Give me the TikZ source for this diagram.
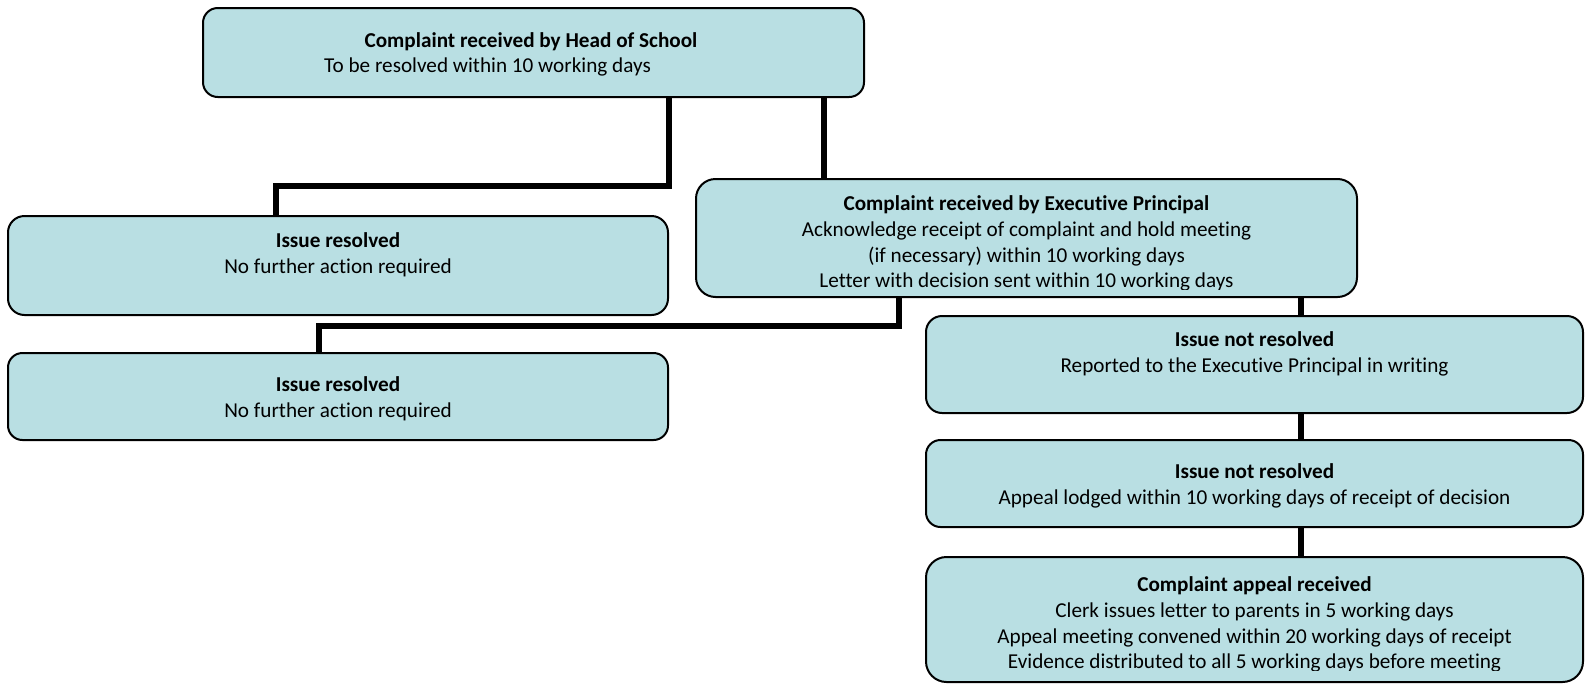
\documentclass[tikz,border=0pt]{standalone}
\usepackage{fontspec}
\setmainfont[Ligatures=NoCommon]{Carlito}
\usetikzlibrary{backgrounds}
\definecolor{boxfill}{RGB}{185,223,227}
\begin{document}
\begin{tikzpicture}[x=1pt,y=-1pt,
  box/.style={draw=black, line width=2pt, fill=boxfill, inner sep=0pt},
  conn/.style={draw=black, line width=6pt, line join=miter},
  tx/.style={inner sep=0pt, anchor=base, font=\fontsize{21.2}{26}\selectfont},
  hd/.style={tx, font=\fontsize{21.2}{26}\selectfont\bfseries}]
\useasboundingbox (0,0) rectangle (1585,683);

% boxes
\node[box, minimum width=661pt, minimum height=89pt, rounded corners=14.8pt] (A) at (533.5,52.5) {};
\node[box, minimum width=660pt, minimum height=99pt, rounded corners=16.5pt] (B) at (338,265.5) {};
\node[box, minimum width=661pt, minimum height=118pt, rounded corners=19.5pt] (C) at (1026.5,238) {};
\node[box, minimum width=660pt, minimum height=87pt, rounded corners=14.5pt] (D) at (338,396.5) {};
\node[box, minimum width=657pt, minimum height=97pt, rounded corners=16pt] (E) at (1254.5,364.5) {};
\node[box, minimum width=657pt, minimum height=87pt, rounded corners=14.5pt] (F) at (1254.5,483.5) {};
\node[box, minimum width=657pt, minimum height=125pt, rounded corners=20.5pt] (G) at (1254.5,619.5) {};

% connectors
\coordinate (k1) at (668.5,186);
\coordinate (k2) at (276,186);
\coordinate (k3) at (824,0);
\coordinate (k4) at (899,326);
\coordinate (k5) at (319,326);
\coordinate (k6) at (1301,0);
\begin{pgfonlayer}{background}
\draw[conn] (A.south -| k1) -- (k1) -- (k2) -- (k2 |- B.north);
\draw[conn] (A.south -| k3) -- (k3 |- C.north);
\draw[conn] (C.south -| k4) -- (k4) -- (k5) -- (k5 |- D.north);
\draw[conn] (C.south -| k6) -- (k6 |- E.north);
\draw[conn] (E.south -| k6) -- (k6 |- F.north);
\draw[conn] (F.south -| k6) -- (k6 |- G.north);
\end{pgfonlayer}

% texts
\node[hd] (tA1) at (531,47) {Complaint received by Head of School};
\node[tx, anchor=base west] (tA2) at (324,72.5) {To be resolved within 10 working days};

\node[hd] (tB1) at (338,247) {Issue resolved};
\node[tx] (tB2) at (338,273) {No further action required};

\node[hd] (tC1) at (1026.5,210) {Complaint received by Executive Principal};
\node[tx] (tC2) at (1026.5,236) {Acknowledge receipt of complaint and hold meeting};
\node[tx] (tC3) at (1026.5,262) {(if necessary) within 10 working days};
\begin{scope}
\clip (696,265) rectangle (1357,289);
\node[tx] (tC4) at (1026.5,287) {Letter with decision sent within 10 working days};
\end{scope}

\node[hd] (tD1) at (338,391) {Issue resolved};
\node[tx] (tD2) at (338,417) {No further action required};

\node[hd] (tE1) at (1254.5,346) {Issue not resolved};
\node[tx] (tE2) at (1254.5,372) {Reported to the Executive Principal in writing};

\node[hd] (tF1) at (1254.5,478) {Issue not resolved};
\node[tx] (tF2) at (1254.5,504) {Appeal lodged within 10 working days of receipt of decision};

\node[hd] (tG1) at (1254.5,591) {Complaint appeal received};
\node[tx] (tG2) at (1254.5,617) {Clerk issues letter to parents in 5 working days};
\node[tx] (tG3) at (1254.5,643) {Appeal meeting convened within 20 working days of receipt};
\begin{scope}
\clip (926,646) rectangle (1583,670);
\node[tx] (tG4) at (1254.5,668) {Evidence distributed to all 5 working days before meeting};
\end{scope}
\end{tikzpicture}
\end{document}
